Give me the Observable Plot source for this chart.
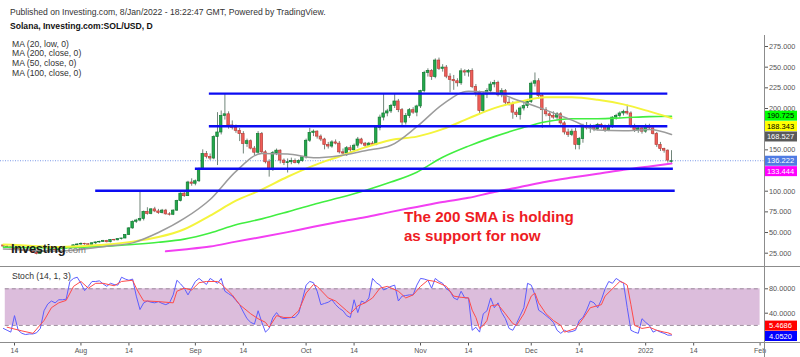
<!DOCTYPE html>
<html>
<head>
<meta charset="utf-8">
<script src="https://cdn.jsdelivr.net/npm/d3@7"></script>
<script src="https://cdn.jsdelivr.net/npm/@observablehq/plot@0.6"></script>
<style>
html,body{margin:0;padding:0;background:#fff;}
#wrap{position:relative;width:800px;height:357px;overflow:hidden;background:#fff;font-family:"Liberation Sans",Arial,sans-serif;}
.t{position:absolute;white-space:nowrap;color:#333;font-size:8.6px;line-height:10px;}
.ln{position:absolute;background:#8c8c8c;}
#main,#stoch{position:absolute;left:0;}
#main{top:0;} #stoch{top:266px;}
svg{overflow:visible;}
</style>
</head>
<body>
<div id="wrap">
  <div id="main"></div>
  <div id="stoch"></div>
</div>
<script>
// ---------------- DATA ----------------
const headerLines = ["Published on Investing.com, 8/Jan/2022 - 18:22:47 GMT, Powered by TradingView.", "Solana, Investing.com:SOL/USD, D"];
const maLabels = ["MA (20, low, 0)", "MA (200, close, 0)", "MA (50, close, 0)", "MA (100, close, 0)"];
const stochLabel = "Stoch (14, 1, 3)";
const annotationText = "The 200 SMA is holding\nas support for now";

const startDate = "2021-07-11";
const opens = [34.5,33.0,32.0,30.8,30.2,28.5,27.5,27.8,27.6,25.6,24.0,26.8,27.3,28.0,29.0,28.4,29.8,30.8,31.0,32.0,34.5,
35.5,36.2,35.8,35.2,37.0,38.0,38.6,39.8,38.3,41.0,40.6,42.0,42.8,47.0,55.0,63.0,64.5,66.5,75.0,72.5,78.0,75.5,73.5,76.5,72.0,71.5,76.5,88.0,97.0,94.0,110.5,
109.0,112.0,127.0,145.0,141.5,139.5,165.5,171.0,191.0,193.0,179.5,176.5,173.0,169.0,157.0,160.5,151.5,146.5,169.0,147.0,135.0,125.5,146.0,149.0,137.0,134.0,135.0,136.5,134.0,136.5,
141.0,161.0,170.5,172.0,166.0,162.5,156.0,154.0,159.0,157.5,147.0,145.5,152.0,149.5,155.0,162.5,157.5,155.0,157.5,156.0,176.5,189.0,194.0,196.5,203.0,208.5,198.0,183.0,191.0,198.0,195.0,
202.5,221.0,243.0,245.5,238.0,258.0,248.0,249.5,238.5,234.5,233.0,230.5,245.0,243.5,245.5,226.0,219.0,197.0,217.0,221.0,229.0,231.0,216.0,221.0,207.0,205.0,195.0,192.0,200.0,203.0,
208.0,230.0,233.0,215.0,198.0,193.0,191.0,189.0,193.0,182.0,171.0,168.0,172.0,156.0,163.0,179.0,176.0,178.0,175.0,180.0,178.0,173.0,179.0,189.0,191.0,194.0,196.0,194.0,178.0,174.0,176.0,
172.0,179.0,176.0,169.0,156.0,151.0,149.0,135.5];
const highs = [35.0,33.8,32.4,31.5,31.0,29.5,28.5,28.7,28.0,26.5,27.5,28.0,28.5,29.5,29.5,31.0,31.5,32.0,32.5,35.0,36.5,
37.5,37.0,36.5,37.5,38.5,39.5,40.5,40.5,41.5,41.8,42.5,43.0,47.5,56.0,64.0,66.0,100.0,76.0,80.0,79.0,80.5,78.0,78.0,78.0,74.0,77.5,89.0,98.0,98.5,112.0,115.0,
113.5,128.0,150.0,148.0,145.0,167.0,195.0,197.0,217.0,196.0,185.0,180.0,176.0,172.0,163.0,162.0,154.0,172.0,171.0,149.0,138.0,148.0,151.0,150.0,139.0,139.0,140.0,139.0,138.0,142.0,
163.0,176.0,174.0,173.0,168.0,164.0,159.0,161.0,162.0,160.0,151.0,154.0,155.0,157.0,165.0,164.0,159.0,159.0,160.0,178.0,192.0,217.0,199.0,205.0,218.0,211.0,200.0,194.0,200.0,201.0,204.0,
222.0,245.0,248.0,247.0,260.0,261.0,253.0,252.0,242.0,240.0,236.0,248.0,247.0,247.0,248.0,229.0,221.0,220.0,224.0,232.0,234.0,233.0,224.0,223.0,212.0,208.0,198.0,202.0,206.0,211.0,
232.0,243.0,236.0,217.0,201.0,195.0,196.0,195.0,195.0,184.0,175.0,175.0,176.0,165.0,181.0,183.0,181.0,180.0,182.0,182.0,180.0,181.0,190.0,193.0,196.0,198.0,204.0,196.0,181.0,178.0,179.0,
181.0,181.0,177.0,171.0,159.0,152.0,150.0,149.0];
const lows = [32.5,31.6,30.5,29.5,28.0,27.0,27.0,27.0,25.0,23.0,23.5,26.0,26.5,27.5,27.5,28.0,28.5,30.0,30.5,31.0,34.0,
34.5,34.5,34.0,34.8,35.5,37.0,38.0,37.5,37.5,39.5,40.0,41.0,42.5,46.5,54.0,61.0,63.0,64.0,71.0,71.5,74.0,72.0,72.5,71.0,70.0,70.5,75.5,87.0,92.5,93.5,106.0,
106.5,110.5,125.0,139.0,137.0,138.0,131.0,168.0,186.0,175.0,174.0,170.0,160.0,145.0,153.0,150.0,143.0,145.0,145.0,133.0,117.0,124.0,143.0,133.0,131.0,122.0,132.0,133.0,132.0,135.0,
139.0,159.0,166.0,163.0,160.0,150.0,151.0,152.0,156.0,145.0,144.0,142.0,147.0,148.0,152.0,156.0,152.0,153.0,154.0,155.0,173.0,185.0,190.0,194.0,200.0,195.0,178.0,180.0,188.0,193.0,190.0,
200.0,219.0,238.0,234.0,236.0,246.0,244.0,236.0,219.0,222.0,226.0,228.0,239.0,238.0,224.0,214.0,193.0,194.0,212.0,219.0,225.0,214.0,213.0,203.0,203.0,187.0,189.0,186.0,197.0,200.0,
206.0,226.0,211.0,176.0,190.0,178.0,187.0,185.0,180.0,168.0,165.0,166.0,150.0,150.0,158.0,174.0,170.0,172.0,173.0,175.0,171.0,172.0,176.0,186.0,188.0,191.0,192.0,176.0,171.0,170.0,169.0,
170.0,174.0,168.0,153.0,148.0,146.0,134.0,133.8];
const closes = [33.0,32.0,30.8,30.2,28.5,27.5,27.8,27.6,25.6,24.0,26.8,27.3,28.0,29.0,28.4,29.8,30.8,31.0,32.0,34.5,35.5,
36.2,35.8,35.2,37.0,38.0,38.6,39.8,38.3,41.0,40.6,42.0,42.8,47.0,55.0,63.0,64.5,66.5,75.0,72.5,78.0,75.5,73.5,76.5,72.0,71.5,76.5,88.0,97.0,94.0,110.5,109.0,
112.0,127.0,145.0,141.5,139.5,165.5,171.0,191.0,193.0,179.5,176.5,173.0,169.0,157.0,160.5,151.5,146.5,169.0,147.0,135.0,125.5,146.0,149.0,137.0,134.0,135.0,136.5,134.0,136.5,141.0,
161.0,170.5,172.0,166.0,162.5,156.0,154.0,159.0,157.5,147.0,145.5,152.0,149.5,155.0,162.5,157.5,155.0,157.5,156.0,176.5,189.0,194.0,196.5,203.0,208.5,198.0,183.0,191.0,198.0,195.0,202.5,
221.0,243.0,245.5,238.0,258.0,248.0,249.5,238.5,234.5,233.0,230.5,245.0,243.5,245.5,226.0,219.0,197.0,217.0,221.0,229.0,231.0,216.0,221.0,207.0,205.0,195.0,192.0,200.0,203.0,208.0,
230.0,233.0,215.0,198.0,193.0,191.0,189.0,193.0,182.0,171.0,168.0,172.0,156.0,163.0,179.0,176.0,178.0,175.0,180.0,178.0,173.0,179.0,189.0,191.0,194.0,196.0,194.0,178.0,174.0,176.0,172.0,
179.0,176.0,169.0,156.0,151.0,149.0,137.0,136.222];

// moving averages (weekly samples)
const maDates = ["2021-07-11","2021-07-18","2021-07-25","2021-08-01","2021-08-08","2021-08-15","2021-08-22","2021-08-29","2021-09-05","2021-09-12","2021-09-19","2021-09-26","2021-10-03","2021-10-10","2021-10-17","2021-10-24","2021-10-31","2021-11-07","2021-11-14","2021-11-21","2021-11-28","2021-12-05","2021-12-12","2021-12-19","2021-12-26","2022-01-02","2022-01-08"];
const ma20 = [30,29,27.5,29.5,33.5,37.5,50,67,90,124,145.5,145,140.5,143,149,155.5,178,205,221,219,209,198,186,174,173,174.5,168.527];
const ma50 = [35.6,34,32.5,33.5,35.5,39,44.5,54,70.5,88.5,102,117.5,131,142,153,162,166,175,188,200.5,208.5,213.5,213.5,210.5,205,196.5,188.343];
const ma100 = [32.3,31.7,31.5,32.3,33.5,35.6,38.2,42,49.5,59.5,66.5,75,84,92,100.8,111,123,141,154.5,166,175.8,184,187.6,187.6,188.8,190.2,190.725];
const ma200Dates = ["2021-08-24","2021-08-29","2021-09-05","2021-09-12","2021-09-19","2021-09-26","2021-10-03","2021-10-10","2021-10-17","2021-10-24","2021-10-31","2021-11-07","2021-11-14","2021-11-21","2021-11-28","2021-12-05","2021-12-12","2021-12-19","2021-12-26","2022-01-02","2022-01-08"];
const ma200 = [27.3,29.5,33,39,44.5,50.5,57,63,68.5,75,81,87,92,99,105,111.5,116.5,121,125.8,130,133.444];

// support / resistance lines
const supportLevels = [218, 178.5, 127.2, 100.5];
const supportFrom = ["2021-09-04T19:00Z","2021-09-04T19:00Z","2021-09-01T00:00Z","2021-08-05T00:00Z"];
const supportTo = ["2022-01-07T00:00Z","2022-01-07T00:00Z","2022-01-08T12:00Z","2022-01-09T00:00Z"];

// stochastic %K (daily, aligned with candles) and %D (read points)
const stochK = [15,12,9,36,12,7,5,6,6,8,15,44,55,60,57,62,62,63,92,97,99,
89,77,84,92,92,93,88,84,89,87,86,99,96,94,96,68,46,57,60,58,57,59,56,54,57,70,94,88,81,70,81,
92,97,92,87,97,93,89,97,76,72,68,61,54,42,31,25,22,44,25,9,15,33,41,33,31,32,33,33,40,62,
86,92,90,76,54,56,58,62,54,48,44,36,33,62,41,60,57,65,97,90,86,78,81,84,86,60,68,69,70,70,86,
97,96,94,81,97,92,89,80,76,65,62,76,65,65,12,17,9,39,44,65,49,57,41,31,15,12,23,36,49,89,
86,70,45,41,36,31,25,12,7,12,9,10,12,28,33,45,60,57,49,62,80,92,89,97,93,89,49,12,9,7,31,
25,20,9,12,9,7,4,4.052];
const stochDDates = ["2021-07-12","2021-07-16","2021-07-19","2021-07-22","2021-07-24","2021-07-26","2021-07-28","2021-07-30","2021-08-01","2021-08-03","2021-08-05","2021-08-07","2021-08-10","2021-08-12","2021-08-15","2021-08-16","2021-08-17","2021-08-18","2021-08-19","2021-08-22","2021-08-26","2021-08-27","2021-08-29","2021-08-31","2021-09-02","2021-09-04","2021-09-07","2021-09-08","2021-09-11","2021-09-13","2021-09-16","2021-09-18","2021-09-20","2021-09-21","2021-09-23","2021-09-25","2021-09-27","2021-09-29","2021-10-01","2021-10-03","2021-10-04","2021-10-07","2021-10-09","2021-10-12","2021-10-13","2021-10-15","2021-10-17","2021-10-19","2021-10-21","2021-10-23","2021-10-26","2021-10-28","2021-10-30","2021-11-01","2021-11-03","2021-11-05","2021-11-08","2021-11-10","2021-11-12","2021-11-14","2021-11-15","2021-11-16","2021-11-17","2021-11-18","2021-11-19","2021-11-20","2021-11-22","2021-11-24","2021-11-26","2021-11-27","2021-11-29","2021-12-01","2021-12-02","2021-12-03","2021-12-05","2021-12-07","2021-12-09","2021-12-10","2021-12-13","2021-12-15","2021-12-17","2021-12-20","2021-12-21","2021-12-24","2021-12-25","2021-12-26","2021-12-27","2021-12-28","2021-12-29","2021-12-31","2022-01-02","2022-01-04","2022-01-06","2022-01-07","2022-01-08"];
const stochD = [17,11,7,28,49,57,61,84,92,81,89,89,85,92,94,81,70,60,60,59,57,76,81,78,90,92,92,88,70,54,39,31,25,17,36,33,33,44,73,87,84,65,60,44,39,52,57,65,81,84,76,65,70,84,94,92,84,68,66,65,45,33,15,20,28,52,54,39,23,20,39,68,73,57,39,28,20,9,15,31,49,54,68,86,92,90,86,54,20,15,17,12,9,8,5.4686];

// axes
const yTicks = [25,50,75,100,125,150,175,200,225,250,275];
const stochTicks = [40,80];
const xTickDates = ["2021-07-14","2021-08-01","2021-08-14","2021-09-01","2021-09-14","2021-10-01","2021-10-14","2021-11-01","2021-11-14","2021-12-01","2021-12-14","2022-01-01","2022-01-14","2022-02-01"];
const xTickLabels = ["14","Aug","14","Sep","14","Oct","14","Nov","14","Dec","14","2022","14","Feb"];

// ---------------- BUILD ----------------
const DAY = 864e5;
const font = "Liberation Sans, Arial, sans-serif";
const t0 = new Date(startDate);
const dates = opens.map((_, i) => new Date(+t0 + i * DAY));
const candles = dates.map((date, i) => ({date, open: opens[i], high: highs[i], low: lows[i], close: closes[i]}));
const up = candles.filter(d => d.close >= d.open);
const down = candles.filter(d => d.close < d.open);
const xDomain = [new Date("2021-07-14"), new Date("2022-02-01")];
const yMainOpts = {domain: [25, 275], range: [252.7, 46]};
const yStochOpts = {domain: [0, 100], range: [71.1, 10.1]};

const maSeries = (ds, vs) => ds.map((d, i) => ({date: new Date(d), v: vs[i]}));
const supports = supportLevels.map((v, i) => ({level: v, from: new Date(supportFrom[i]), to: new Date(supportTo[i])}));
const bodyHalf = 0.34 * DAY;
const body = (data, fill, stroke) => Plot.rect(data, {
  x1: d => new Date(+d.date - bodyHalf), x2: d => new Date(+d.date + bodyHalf),
  y1: "open", y2: "close", fill, stroke, strokeWidth: 0.7
});

// value tags (last values) laid out on the right scale, pushed apart like TradingView
function layoutTags(tags, ys, maxY) {
  const items = tags.map(t => ({...t, y: ys.apply(t.value)})).sort((a, b) => a.y - b.y);
  const h = 10.4;
  for (let i = 1; i < items.length; i++) if (items[i].y < items[i - 1].y + h) items[i].y = items[i - 1].y + h;
  const over = items[items.length - 1].y - maxY;
  if (over > 0) items.forEach(d => d.y -= over);
  return items;
}
function drawTags(svg, items, digits) {
  const g = d3.select(svg).append("g").attr("font-family", font).attr("font-size", 7.5);
  items.forEach(d => {
    g.append("rect").attr("x", 764).attr("y", d.y - 5).attr("width", 33).attr("height", 10).attr("fill", d.bg);
    g.append("text").attr("x", 780.5).attr("y", d.y).attr("dy", "0.35em").attr("text-anchor", "middle")
      .attr("fill", d.fg).text(d.value.toFixed(digits));
  });
}
const yMainScale = Plot.scale({y: yMainOpts});
const mainTags = layoutTags([
  {value: ma100[ma100.length - 1], bg: "#00ff00", fg: "#000"},
  {value: ma50[ma50.length - 1], bg: "#ffff00", fg: "#000"},
  {value: ma20[ma20.length - 1], bg: "#5a5a5a", fg: "#fff"},
  {value: closes[closes.length - 1], bg: "#4f7be3", fg: "#fff"},
  {value: ma200[ma200.length - 1], bg: "#ff00ff", fg: "#fff"}
], yMainScale, 255);
// tick labels that sit under a value tag are hidden, as in the reference
const visibleTicks = yTicks.filter(t => mainTags.every(g => Math.abs(yMainScale.apply(t) - g.y) >= 6.5));

const main = Plot.plot({
  width: 800, height: 268,
  marginLeft: 14, marginRight: 40.4, marginTop: 35, marginBottom: 2,
  style: {fontFamily: font, color: "#555", background: "transparent", overflow: "visible"},
  x: {type: "utc", domain: xDomain, axis: null},
  y: {...yMainOpts, axis: null},
  marks: [
    Plot.ruleX(candles, {x: "date", y1: "low", y2: "high", stroke: "#71857a", strokeWidth: 1}),
    body(up, "#22a84b", "#137a33"),
    body(down, "#ef5d58", "#b8403b"),
    Plot.line(maSeries(maDates, ma100), {x: "date", y: "v", stroke: "#41ee41", strokeWidth: 1.6, curve: "monotone-x"}),
    Plot.line(maSeries(ma200Dates, ma200), {x: "date", y: "v", stroke: "#f23ff2", strokeWidth: 2, curve: "monotone-x"}),
    Plot.line(maSeries(maDates, ma50), {x: "date", y: "v", stroke: "#f4f43c", strokeWidth: 2, curve: "monotone-x"}),
    Plot.line(maSeries(maDates, ma20), {x: "date", y: "v", stroke: "#9b9b9b", strokeWidth: 1.5, curve: "monotone-x"}),
    Plot.ruleY(supports, {y: "level", x1: "from", x2: "to", stroke: "#0c0cf2", strokeWidth: 2.4}),
    Plot.text([{date: new Date("2021-10-27T12:00Z"), price: 79, label: annotationText}], {
      x: "date", y: "price", text: "label", textAnchor: "start", lineAnchor: "top",
      fontSize: 15.2, fontWeight: "bold", fill: "#ee1c24", lineHeight: 1.25, fontFamily: font
    }),
    Plot.axisY({anchor: "right", ticks: visibleTicks, tickFormat: d => d.toFixed(3), tickSize: 3, tickPadding: 1.5, dx: 4.4, fontSize: 7.3, label: null})
  ]
});
document.getElementById("main").appendChild(main);

const kData = dates.map((date, i) => ({date, v: stochK[i]}));
const dData = stochDDates.map((d, i) => ({date: new Date(d), v: stochD[i]}));
const labelMap = new Map(xTickDates.map((d, i) => [+new Date(d), xTickLabels[i]]));
const bandStart = new Date("2021-07-11T12:00Z");

const stoch = Plot.plot({
  width: 800, height: 91,
  marginLeft: 14, marginRight: 40.4, marginTop: 2, marginBottom: 14.5,
  style: {fontFamily: font, color: "#555", background: "transparent", overflow: "visible"},
  x: {type: "utc", domain: xDomain, axis: null},
  y: {...yStochOpts, axis: null},
  marks: [
    Plot.rect([{a: bandStart, b: xDomain[1]}], {x1: "a", x2: "b", y1: 20, y2: 80, fill: "#dcbddc"}),
    Plot.ruleY([20, 80], {x1: bandStart, x2: xDomain[1], stroke: "#9c8a9c", strokeDasharray: "4,3", strokeWidth: 1}),
    Plot.line(kData, {x: "date", y: "v", stroke: "#5d5dff", strokeWidth: 1}),
    Plot.line(dData, {x: "date", y: "v", stroke: "#ff4a4a", strokeWidth: 1}),
    Plot.axisY({anchor: "right", ticks: stochTicks, tickFormat: d => d.toFixed(4), tickSize: 3, tickPadding: 1.5, dx: 4.4, fontSize: 7.3, label: null}),
    Plot.axisX({ticks: xTickDates.map(d => new Date(d)), tickFormat: d => labelMap.get(+d), tickSize: 3, tickPadding: 2, fontSize: 7, label: null})
  ]
});
document.getElementById("stoch").appendChild(stoch);

// last price dotted line
const yMain = main.scale("y");
const lastY = yMain.apply(closes[closes.length - 1]);
d3.select(main).insert("line", ":first-child")
  .attr("x1", 0).attr("x2", 764).attr("y1", lastY).attr("y2", lastY)
  .attr("stroke", "#7d9be8").attr("stroke-dasharray", "1,1.5").attr("stroke-width", 1);

drawTags(main, mainTags, 3);
drawTags(stoch, layoutTags([
  {value: stochD[stochD.length - 1], bg: "#ff0000", fg: "#fff"},
  {value: stochK[stochK.length - 1], bg: "#0000ff", fg: "#fff"}
], stoch.scale("y"), 70), 4);

// text, logo and frame lines
const wrap = document.getElementById("wrap");
function addDiv(cls, css, text, html) {
  const el = document.createElement("div");
  el.className = cls; el.style.cssText = css;
  if (html) el.innerHTML = html; else if (text != null) el.textContent = text;
  wrap.appendChild(el); return el;
}
addDiv("t", "left:10px;top:6.7px;", headerLines[0]);
addDiv("t", "left:10px;top:20.7px;font-weight:bold;color:#111;", headerLines[1]);
const maTops = [38.7, 48.4, 58.1, 67.6];
maLabels.forEach((s, i) => addDiv("t", `left:12px;top:${maTops[i]}px;`, s));
addDiv("t", "left:12px;top:271px;", stochLabel);
addDiv("t", "left:11px;top:241.5px;font-size:13px;line-height:14px;letter-spacing:-0.3px;", null,
  '<span style="font-weight:bold;color:#1c1c1c">Investing</span><span style="font-size:9.5px;color:#7a7a7a;letter-spacing:0">.com</span>');
addDiv("ln", "left:0;top:266px;width:800px;height:1px;");
addDiv("ln", "left:0;top:342px;width:800px;height:1px;");
addDiv("ln", "left:764px;top:35px;width:1px;height:322px;");
</script>
</body>
</html>
